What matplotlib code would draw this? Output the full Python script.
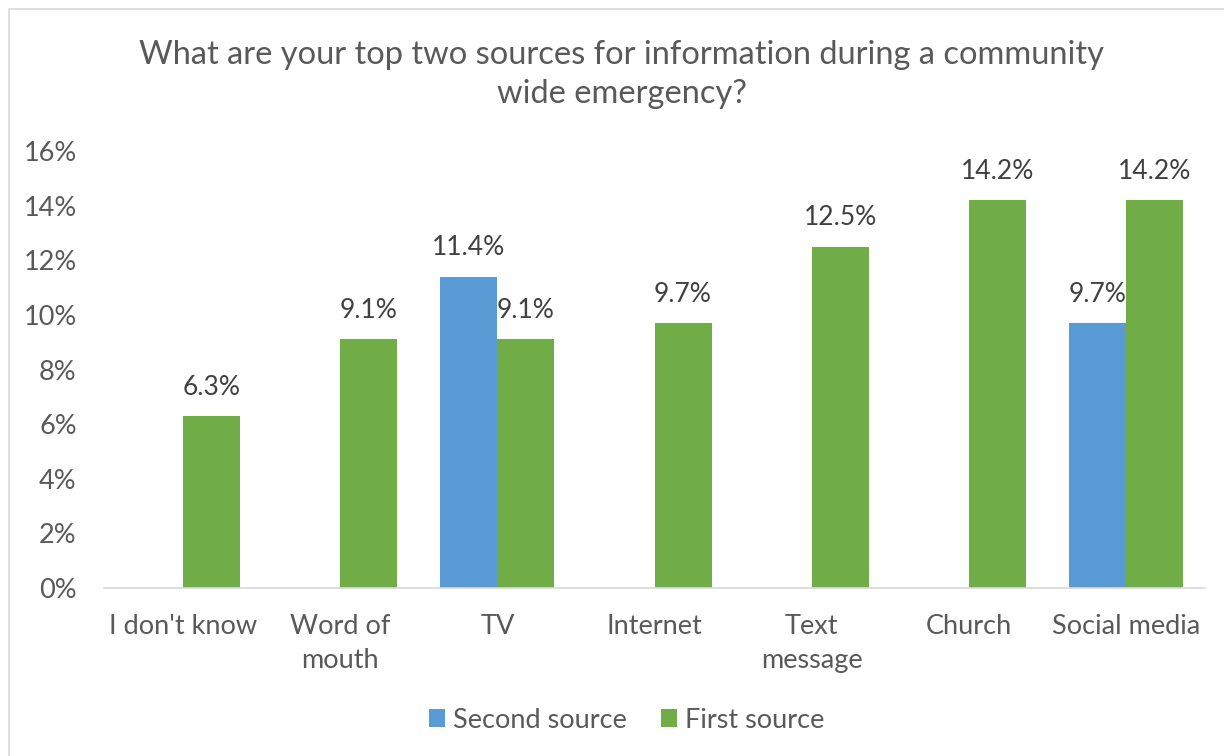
#!/usr/bin/env python3
import numpy as np
import matplotlib
matplotlib.use('Agg')
import matplotlib.pyplot as plt
from matplotlib.patches import Rectangle

categories = ["I don't know", 'Word of\nmouth', 'TV', 'Internet', 'Text\nmessage', 'Church', 'Social media']
second_source = [np.nan, np.nan, 11.4, np.nan, np.nan, np.nan, 9.7]
first_source = [6.3, 9.1, 9.1, 9.7, 12.5, 14.2, 14.2]
yticks = [0, 2, 4, 6, 8, 10, 12, 14, 16]

text_color = '#595959'
blue = '#5B9BD5'
green = '#70AD47'

plt.rcParams['font.family'] = ['Lato', 'DejaVu Sans']

fig = plt.figure(figsize=(12.24, 7.56), dpi=100)
ax = fig.add_axes([104.5 / 1224, 1 - 588 / 756, 1100 / 1224, 437 / 756])

x = np.arange(len(categories))
w = 0.363
b1 = ax.bar(x - w / 2, second_source, width=w, color=blue, label='Second source')
b2 = ax.bar(x + w / 2, first_source, width=w, color=green, label='First source')

for bars, vals in ((b1, second_source), (b2, first_source)):
    for rect, v in zip(bars, vals):
        if np.isnan(v):
            continue
        ax.text(rect.get_x() + rect.get_width() / 2, v + 0.6, f'{v:.1f}%',
                ha='center', va='bottom', fontsize=19, color='#404040')

ax.set_xlim(-0.5, len(categories) - 0.5)
ax.set_ylim(0, 16)
ax.set_yticks(yticks)
ax.set_yticklabels([f'{t}%' for t in yticks])
ax.set_xticks(x)
ax.set_xticklabels(categories, linespacing=1.45)
ax.tick_params(axis='both', length=0, labelsize=19.5, colors=text_color)
ax.tick_params(axis='y', pad=20)
ax.tick_params(axis='x', pad=19)
for s in ['top', 'right', 'left']:
    ax.spines[s].set_visible(False)
ax.spines['bottom'].set_color('#D9D9D9')
ax.spines['bottom'].set_linewidth(1.2)

fig.text(0.508, 1 - 74.5 / 756, 'What are your top two sources for information during a community\nwide emergency?',
         ha='center', va='center', fontsize=23.5, color=text_color, linespacing=1.38)

ax.legend(loc='center', bbox_to_anchor=(0.4745, (588 - 720) / 437), ncol=2, frameon=False,
          fontsize=19.5, labelcolor=text_color, handlelength=0.6, handleheight=0.6,
          handletextpad=0.3, columnspacing=1.25)

# chart area border (left / top visible)
fig.patches.append(Rectangle((9 / 1224, -0.1), 1.2, 1 - 9 / 756 + 0.1, transform=fig.transFigure,
                             fill=False, edgecolor='#D9D9D9', linewidth=1.2))

fig.savefig('out.png', dpi=100)
